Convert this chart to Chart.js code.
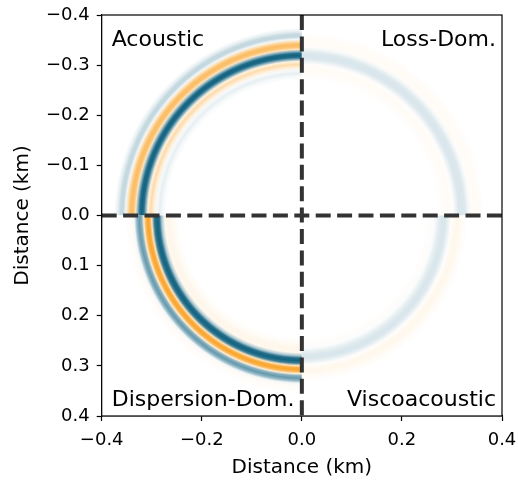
<!DOCTYPE html>
<html lang="en">

<head>
    <meta charset="UTF-8">
    <title>Wavefield snapshots</title>
    <script src="https://cdn.jsdelivr.net/npm/chart.js"></script>
    <style>
        body { margin: 0; background: #fff; }
    </style>
</head>

<body>
    <canvas id="grafico" width="518" height="480"></canvas>

    <script>
        // axis ticks (km)
        const xTicks = [-0.4, -0.2, 0.0, 0.2, 0.4];
        const yTicks = [-0.4, -0.3, -0.2, -0.1, 0.0, 0.1, 0.2, 0.3, 0.4];

        const panelNames = ['Acoustic', 'Loss-Dom.', 'Dispersion-Dom.', 'Viscoacoustic'];

        // radial traces: distance from source (km) and wavefield amplitude
        const acousticR   = [0.270, 0.278, 0.284, 0.290, 0.295, 0.302, 0.308, 0.312, 0.316, 0.320, 0.324, 0.328, 0.332, 0.336, 0.340, 0.344, 0.348, 0.352, 0.357, 0.362, 0.368, 0.375];
        const acousticAmp = [0.00, 0.04, 0.10, 0.04, -0.15, -0.40, -0.15, 0.50, 0.92, 1.00, 0.92, 0.50, -0.30, -0.65, -0.75, -0.65, -0.35, 0.05, 0.25, 0.25, 0.10, 0.00];

        const lossR   = [0.270, 0.282, 0.292, 0.302, 0.308, 0.314, 0.320, 0.326, 0.332, 0.338, 0.346, 0.355, 0.365];
        const lossAmp = [0.00, -0.02, -0.05, -0.02, 0.08, 0.15, 0.16, 0.14, 0.06, -0.03, -0.05, -0.03, 0.00];

        const dispersionR   = [0.245, 0.255, 0.265, 0.274, 0.280, 0.285, 0.290, 0.295, 0.300, 0.304, 0.308, 0.312, 0.316, 0.320, 0.325, 0.330, 0.335, 0.340, 0.348, 0.355];
        const dispersionAmp = [0.00, -0.05, -0.10, -0.08, 0.35, 0.92, 1.00, 0.85, -0.30, -0.90, -1.00, -0.80, -0.20, 0.50, 0.65, 0.45, 0.05, -0.04, -0.02, 0.00];

        const viscoR   = [0.245, 0.255, 0.265, 0.272, 0.280, 0.286, 0.293, 0.298, 0.304, 0.310, 0.316, 0.323, 0.332];
        const viscoAmp = [0.00, -0.02, 0.02, 0.10, 0.16, 0.16, 0.08, -0.02, -0.07, -0.09, -0.07, -0.03, 0.00];

        const FONT = "'DejaVu Sans', sans-serif";
        const TEAL = [18, 98, 128];
        const ORANGE = [249, 165, 45];

        function ampColor(a) {
            const end = a >= 0 ? TEAL : ORANGE;
            const t = Math.min(1, Math.abs(a));
            const c = end.map(v => Math.round(255 + (v - 255) * t));
            return 'rgb(' + c.join(',') + ')';
        }

        function fmtTick(v) {
            v = Math.round(v * 10) / 10;
            return (v < 0 ? '\u2212' : '') + Math.abs(v).toFixed(1);
        }

        const wavefield = {
            id: 'wavefield',
            beforeDatasetsDraw(chart) {
                const { ctx, chartArea: a, scales: { x, y } } = chart;
                const cx = x.getPixelForValue(0);
                const cy = y.getPixelForValue(0);
                const rMax = 0.6;
                const rPx = x.getPixelForValue(rMax) - cx;

                const panels = [
                    { r: acousticR, amp: acousticAmp, box: [a.left, a.top, cx, cy] },
                    { r: lossR, amp: lossAmp, box: [cx, a.top, a.right, cy] },
                    { r: dispersionR, amp: dispersionAmp, box: [a.left, cy, cx, a.bottom] },
                    { r: viscoR, amp: viscoAmp, box: [cx, cy, a.right, a.bottom] }
                ];

                ctx.save();
                panels.forEach(p => {
                    const g = ctx.createRadialGradient(cx, cy, 0, cx, cy, rPx);
                    p.r.forEach((r, i) => g.addColorStop(r / rMax, ampColor(p.amp[i])));
                    ctx.fillStyle = g;
                    const [x0, y0, x1, y1] = p.box;
                    ctx.fillRect(x0, y0, x1 - x0, y1 - y0);
                });
                ctx.restore();
            },
            afterDatasetsDraw(chart) {
                const { ctx, chartArea: a, scales: { x, y } } = chart;
                const cx = x.getPixelForValue(0);
                const cy = y.getPixelForValue(0);

                ctx.save();
                // quadrant dividers
                ctx.strokeStyle = '#333333';
                ctx.lineWidth = 4;
                ctx.setLineDash([15, 6.4]);
                ctx.beginPath();
                ctx.moveTo(a.left, cy);
                ctx.lineTo(a.right, cy);
                ctx.stroke();
                ctx.beginPath();
                ctx.moveTo(cx, a.top);
                ctx.lineTo(cx, a.bottom);
                ctx.stroke();
                ctx.setLineDash([]);

                // frame
                ctx.strokeStyle = '#000';
                ctx.lineWidth = 1.2;
                ctx.strokeRect(a.left, a.top, a.right - a.left, a.bottom - a.top);

                // panel labels
                ctx.fillStyle = '#000';
                ctx.font = '22px ' + FONT;
                ctx.textBaseline = 'alphabetic';
                ctx.textAlign = 'left';
                ctx.fillText(panelNames[0], a.left + 10, a.top + 31);
                ctx.fillText(panelNames[2], a.left + 10, a.bottom - 10);
                ctx.textAlign = 'right';
                ctx.fillText(panelNames[1], a.right - 6, a.top + 31);
                ctx.fillText(panelNames[3], a.right - 6, a.bottom - 10);
                ctx.restore();
            }
        };

        const ctx = document.getElementById('grafico').getContext('2d');
        new Chart(ctx, {
            type: 'scatter',
            data: { datasets: [] },
            options: {
                responsive: false,
                animation: false,
                devicePixelRatio: 1,
                layout: { padding: { left: 0, top: 15, right: 16, bottom: 0 } },
                plugins: { legend: { display: false }, tooltip: { enabled: false } },
                scales: {
                    x: {
                        type: 'linear',
                        min: -0.4,
                        max: 0.4,
                        afterBuildTicks: s => { s.ticks = xTicks.map(v => ({ value: v })); },
                        afterFit: s => { s.height = 64; s.paddingLeft = 0; s.paddingRight = 0; },
                        ticks: { color: '#000', font: { family: FONT, size: 18 }, padding: 9, maxRotation: 0, callback: fmtTick },
                        grid: { drawOnChartArea: false, drawTicks: true, tickLength: 5, tickColor: '#000', tickWidth: 1.2 },
                        border: { display: true, color: '#000', width: 1.2 },
                        title: { display: true, text: 'Distance (km)', color: '#000', font: { family: FONT, size: 20 }, padding: { top: 2, bottom: 0 } }
                    },
                    y: {
                        type: 'linear',
                        reverse: true,
                        min: -0.4,
                        max: 0.4,
                        afterBuildTicks: s => { s.ticks = yTicks.map(v => ({ value: v })); },
                        afterFit: s => { s.width = 101.7; s.paddingTop = 0; s.paddingBottom = 0; },
                        ticks: { color: '#000', font: { family: FONT, size: 18 }, padding: 7, callback: fmtTick },
                        grid: { drawOnChartArea: false, drawTicks: true, tickLength: 5, tickColor: '#000', tickWidth: 1.2 },
                        border: { display: true, color: '#000', width: 1.2 },
                        title: { display: true, text: 'Distance (km)', color: '#000', font: { family: FONT, size: 20 }, padding: { top: 11, bottom: 4 } }
                    }
                }
            },
            plugins: [wavefield]
        });
    </script>
</body>

</html>
